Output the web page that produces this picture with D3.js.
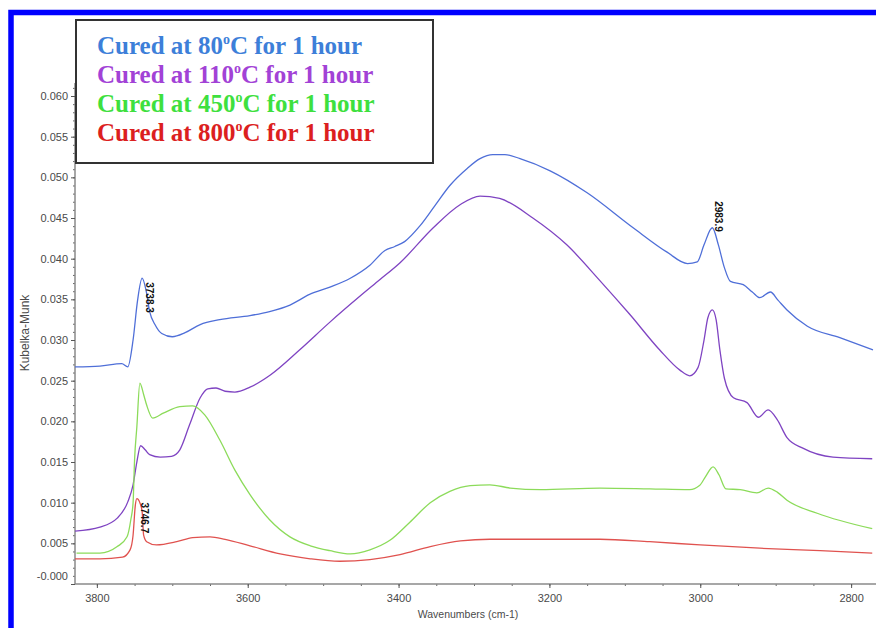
<!DOCTYPE html>
<html>
<head>
<meta charset="utf-8">
<script src="https://cdn.jsdelivr.net/npm/d3@7"></script>
<style>
  body { margin: 0; background: #fff; }
  svg { display: block; }
</style>
</head>
<body>
<svg id="chart" width="876" height="628"></svg>
<script>
// [wavenumber cm-1, Kubelka-Munk]
const cured80 = [
  [3829, 0.0267], [3796, 0.0268], [3767, 0.0271], [3759, 0.0267], [3752, 0.0300],
  [3746, 0.0349], [3740, 0.0376], [3735, 0.0362], [3730, 0.0335], [3723, 0.0319],
  [3714, 0.0308], [3700, 0.0304], [3683, 0.0309], [3663, 0.0319], [3637, 0.0325],
  [3597, 0.0330], [3571, 0.0335], [3544, 0.0343], [3518, 0.0356], [3491, 0.0365],
  [3464, 0.0376], [3438, 0.0392], [3418, 0.0410], [3405, 0.0415], [3392, 0.0421],
  [3372, 0.0440], [3352, 0.0465], [3332, 0.0490], [3309, 0.0511], [3292, 0.0523],
  [3275, 0.0528], [3259, 0.0528], [3239, 0.0523], [3199, 0.0508], [3150, 0.0481],
  [3089, 0.0438], [3044, 0.0408], [3017, 0.0394], [3004, 0.0396], [2995, 0.0417],
  [2984, 0.0438], [2976, 0.0417], [2968, 0.0389], [2960, 0.0372], [2943, 0.0368],
  [2931, 0.0359], [2921, 0.0352], [2907, 0.0359], [2897, 0.0349], [2885, 0.0337],
  [2858, 0.0317], [2815, 0.0303], [2771, 0.0288]
];
const cured110 = [
  [3829, 0.0065], [3796, 0.0070], [3773, 0.0081], [3759, 0.0101], [3752, 0.0122],
  [3747, 0.0150], [3742, 0.0170], [3736, 0.0165], [3730, 0.0159], [3716, 0.0156],
  [3701, 0.0157], [3690, 0.0165], [3677, 0.0196], [3663, 0.0229], [3653, 0.0240],
  [3642, 0.0241], [3630, 0.0237], [3617, 0.0236], [3597, 0.0242], [3570, 0.0257],
  [3531, 0.0288], [3491, 0.0322], [3451, 0.0354], [3425, 0.0374], [3398, 0.0395],
  [3354, 0.0438], [3319, 0.0466], [3292, 0.0477], [3266, 0.0474], [3222, 0.0450],
  [3177, 0.0417], [3134, 0.0374], [3093, 0.0331], [3054, 0.0288], [3027, 0.0263],
  [3014, 0.0256], [3003, 0.0266], [2995, 0.0300], [2990, 0.0327], [2984, 0.0337],
  [2979, 0.0325], [2974, 0.0288], [2968, 0.0253], [2956, 0.0229], [2938, 0.0223],
  [2923, 0.0205], [2910, 0.0214], [2898, 0.0202], [2885, 0.0180], [2864, 0.0167],
  [2824, 0.0156], [2772, 0.0154]
];
const cured450 = [
  [3827, 0.0038], [3796, 0.0038], [3773, 0.0046], [3760, 0.0058], [3755, 0.0079],
  [3752, 0.0100], [3750, 0.0153], [3747, 0.0193], [3743, 0.0247], [3738, 0.0233],
  [3734, 0.0220], [3726, 0.0204], [3712, 0.0210], [3690, 0.0218], [3673, 0.0219],
  [3657, 0.0208], [3637, 0.0177], [3617, 0.0140], [3597, 0.0110], [3571, 0.0079],
  [3544, 0.0058], [3517, 0.0047], [3491, 0.0041], [3464, 0.0037], [3438, 0.0042],
  [3411, 0.0054], [3385, 0.0076], [3358, 0.0100], [3332, 0.0114], [3305, 0.0121],
  [3279, 0.0122], [3252, 0.0118], [3212, 0.0116], [3133, 0.0118], [3067, 0.0117],
  [3014, 0.0116], [3001, 0.0121], [2993, 0.0132], [2983, 0.0144], [2975, 0.0134],
  [2966, 0.0117], [2947, 0.0116], [2925, 0.0112], [2910, 0.0118], [2898, 0.0113],
  [2885, 0.0103], [2845, 0.0087], [2772, 0.0068]
];
const cured800 = [
  [3829, 0.0031], [3796, 0.0031], [3766, 0.0033], [3756, 0.0042], [3752, 0.0060],
  [3749, 0.0097], [3747, 0.0105], [3743, 0.0100], [3740, 0.0089], [3738, 0.0060],
  [3734, 0.0052], [3721, 0.0048], [3694, 0.0052], [3673, 0.0057], [3650, 0.0058],
  [3630, 0.0055], [3597, 0.0047], [3557, 0.0037], [3517, 0.0031], [3478, 0.0028],
  [3438, 0.0030], [3398, 0.0036], [3358, 0.0046], [3318, 0.0053], [3279, 0.0055],
  [3239, 0.0055], [3186, 0.0055], [3133, 0.0055], [3067, 0.0052], [3000, 0.0048],
  [2921, 0.0044], [2841, 0.0041], [2772, 0.0038]
];

const seriesData = [cured80, cured110, cured450, cured800];
const temps = ['80', '110', '450', '800'];
const lineColors = ['#4f6fd8', '#7f44c2', '#8cdb5a', '#e0524f'];
const textColors = ['#3d7fd9', '#a242d6', '#3ee03e', '#dc1f1f'];

// peak annotations: label, wavenumber, series index
const peaks = [
  { label: '3738.3', wn: 3740, series: 0 },
  { label: '2983.9', wn: 2984, series: 0 },
  { label: '3746.7', wn: 3747, series: 3 }
];

const yTicks = d3.range(0, 13).map(i => i * 0.005);
const yMinor = d3.range(0, 62).map(i => i * 0.001);
const xTicks = [3800, 3600, 3400, 3200, 3000, 2800];
const xMinor = d3.range(2800, 3801, 50);

const svg = d3.select('#chart');
const plot = { left: 75, right: 876, top: 83, bottom: 584 };

const x = d3.scaleLinear().domain([3829, 2767]).range([plot.left, plot.right]);
const y = d3.scaleLinear().domain([0, 0.0616]).range([plot.bottom, plot.top]);

svg.append('rect')
  .attr('width', 876).attr('height', 628).attr('fill', '#fff');

svg.append('defs').append('clipPath')
  .attr('id', 'plot-clip')
  .append('rect')
  .attr('x', plot.left).attr('y', plot.top - 5)
  .attr('width', plot.right - plot.left).attr('height', plot.bottom - plot.top + 5);

// axes
const axisColor = '#8a8a8a';
const labelColor = '#4a4a4a';

const yAxis = svg.append('g')
  .attr('transform', `translate(${plot.left},0)`);
yAxis.append('g')
  .call(d3.axisLeft(y).tickValues(yMinor).tickSize(2).tickFormat(''))
  .call(g => g.select('.domain').remove())
  .selectAll('line').attr('stroke', '#666');
yAxis.append('g')
  .call(d3.axisLeft(y).tickValues(yTicks).tickSize(4).tickPadding(3)
    .tickFormat(d => d === 0 ? '-0.000' : d3.format('.3f')(d)))
  .call(g => g.select('.domain').attr('stroke', axisColor).attr('stroke-width', 1.5)
    .attr('d', `M0,${plot.top}V${plot.bottom}`))
  .call(g => g.selectAll('line').attr('stroke', '#555'))
  .call(g => g.selectAll('text')
    .attr('fill', labelColor)
    .style('font-family', 'Liberation Sans, Arial, sans-serif')
    .style('font-size', '11px')
    .attr('dy', d => d === 0 ? '-0.4em' : '0.32em'));

const xAxis = svg.append('g')
  .attr('transform', `translate(0,${plot.bottom})`);
xAxis.append('g')
  .call(d3.axisBottom(x).tickValues(xMinor).tickSize(2).tickFormat(''))
  .call(g => g.select('.domain').remove())
  .selectAll('line').attr('stroke', '#666');
xAxis.append('g')
  .call(d3.axisBottom(x).tickValues(xTicks).tickSize(4).tickPadding(6).tickFormat(d3.format('d')))
  .call(g => g.select('.domain').attr('stroke', axisColor).attr('stroke-width', 1.5)
    .attr('d', `M${plot.left},0H${plot.right}`))
  .call(g => g.selectAll('line').attr('stroke', '#555'))
  .call(g => g.selectAll('text')
    .attr('fill', labelColor)
    .style('font-family', 'Liberation Sans, Arial, sans-serif')
    .style('font-size', '11px'));

svg.append('text')
  .attr('x', 468).attr('y', 618)
  .attr('text-anchor', 'middle')
  .attr('fill', labelColor)
  .style('font-family', 'Liberation Sans, Arial, sans-serif')
  .style('font-size', '10.5px')
  .text('Wavenumbers (cm-1)');

svg.append('text')
  .attr('transform', 'translate(29,333) rotate(-90)')
  .attr('text-anchor', 'middle')
  .attr('fill', labelColor)
  .style('font-family', 'Liberation Sans, Arial, sans-serif')
  .style('font-size', '12px')
  .text('Kubelka-Munk');

// spectra
const line = d3.line()
  .x(d => x(d[0]))
  .y(d => y(d[1]))
  .curve(d3.curveMonotoneX);

svg.append('g')
  .attr('clip-path', 'url(#plot-clip)')
  .selectAll('path')
  .data(seriesData)
  .enter()
  .append('path')
  .attr('d', line)
  .attr('fill', 'none')
  .attr('stroke', (d, i) => lineColors[i])
  .attr('stroke-width', 1.3);

// peak labels
const peakText = svg.append('g')
  .style('font-family', 'Liberation Sans, Arial, sans-serif')
  .style('font-size', '10px')
  .style('font-weight', 'bold')
  .attr('fill', '#111');
peaks.forEach((p, i) => {
  const pt = seriesData[p.series].find(d => d[0] === p.wn);
  const px = x(p.wn), py = y(pt[1]);
  const t = peakText.append('text').text(p.label);
  if (i === 1) {
    t.attr('transform', `translate(${px + 3},${py + 4}) rotate(90)`)
      .attr('text-anchor', 'end');
  } else {
    t.attr('transform', `translate(${px + 4},${py + 4}) rotate(90)`)
      .attr('text-anchor', 'start');
  }
});

// legend
const legend = svg.append('g');
legend.append('rect')
  .attr('x', 76).attr('y', 20)
  .attr('width', 357).attr('height', 143)
  .attr('fill', '#fff')
  .attr('stroke', '#333')
  .attr('stroke-width', 2);
const legendText = legend.selectAll('text')
  .data(temps)
  .enter()
  .append('text')
  .attr('x', 97)
  .attr('y', (d, i) => 54 + i * 29)
  .attr('fill', (d, i) => textColors[i])
  .style('font-family', 'Liberation Serif, Times New Roman, serif')
  .style('font-weight', 'bold')
  .style('font-size', '25px');
legendText.append('tspan').text(d => 'Cured at ' + d);
legendText.append('tspan').attr('dy', -10).style('font-size', '14px').text('o');
legendText.append('tspan').attr('dy', 10).text('C for 1 hour');

// blue frame
svg.append('rect')
  .attr('x', 11).attr('y', 12.5)
  .attr('width', 900).attr('height', 700)
  .attr('fill', 'none')
  .attr('stroke', '#0000ff')
  .attr('stroke-width', 5.5);
</script>
</body>
</html>
